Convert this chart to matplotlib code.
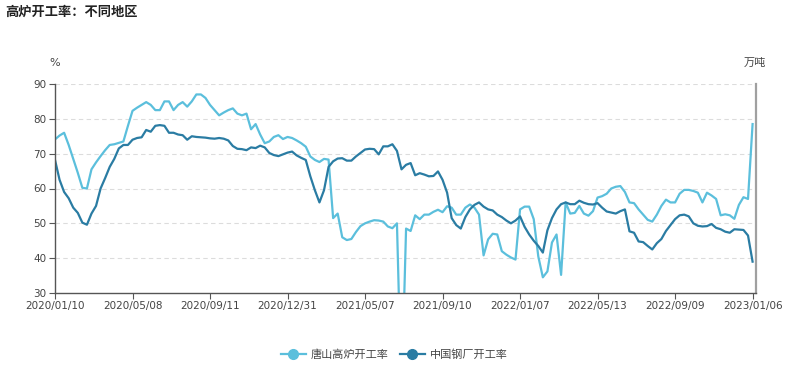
import matplotlib
matplotlib.use("Agg")
import matplotlib.pyplot as plt
import numpy as np

plt.rcParams['font.family'] = ['Noto Sans CJK SC', 'DejaVu Sans']

title = "高炉开工率：不同地区"
series_names = ["唐山高炉开工率", "中国钢厂开工率"]
tick_labels = ["2020/01/10", "2020/05/08", "2020/09/11", "2020/12/31", "2021/05/07",
               "2021/09/10", "2022/01/07", "2022/05/13", "2022/09/09", "2023/01/06"]
tick_step = 17
y_ticks = [30, 40, 50, 60, 70, 80, 90]

tangshan = [
    74.1, 75.2, 76.0, 72.5, 68.5, 64.5, 60.2, 60.0, 65.5, 67.5,
    69.3, 71.0, 72.5, 72.7, 73.1, 73.5, 78.0, 82.3, 83.2, 84.0,
    84.8, 84.0, 82.5, 82.5, 85.0, 85.0, 82.5, 84.0, 84.8, 83.5,
    85.0, 87.0, 87.0, 86.0, 84.0, 82.5, 81.0, 81.8, 82.5, 83.0,
    81.5, 81.0, 81.5, 77.0, 78.5, 75.5, 73.0, 73.5, 74.8, 75.3,
    74.2, 74.8, 74.5, 73.8, 73.0, 72.0, 69.2, 68.2, 67.6, 68.5,
    68.3, 51.5, 52.8, 46.0, 45.2, 45.5, 47.5, 49.2, 50.0, 50.5,
    50.9, 50.8, 50.5, 49.1, 48.6, 50.0, 0.0, 48.5, 47.8, 52.3,
    51.2, 52.5, 52.5, 53.3, 53.9, 53.2, 54.9, 54.5, 52.5, 52.5,
    54.5, 55.4, 54.5, 52.5, 40.8, 45.4, 47.0, 46.8, 42.0, 41.0,
    40.2, 39.6, 54.0, 54.8, 54.8, 51.2, 40.5, 34.5, 36.2, 44.5,
    46.8, 35.2, 56.0, 52.8, 53.0, 55.0, 52.8, 52.2, 53.5, 57.4,
    57.8, 58.5, 60.0, 60.5, 60.7, 59.0, 56.0, 55.8, 54.0, 52.5,
    51.0, 50.5, 52.5, 55.0, 56.8, 56.0, 56.0, 58.5, 59.6, 59.6,
    59.3, 58.8, 56.0, 58.8, 58.0, 57.0, 52.3, 52.6, 52.3, 51.3,
    55.3, 57.5, 57.0, 78.5,
]

china = [
    68.2, 62.5, 59.0, 57.2, 54.5, 53.0, 50.2, 49.6, 52.8, 55.0,
    60.0, 63.0, 66.2, 68.5, 71.5, 72.5, 72.5, 74.0, 74.5, 74.7,
    76.8, 76.3, 78.0, 78.2, 78.0, 76.0, 76.0, 75.5, 75.3, 74.0,
    75.0, 74.8, 74.7, 74.6, 74.4, 74.3, 74.5, 74.3, 73.8, 72.2,
    71.4, 71.3, 71.0, 71.8, 71.6, 72.3, 71.8, 70.2, 69.6, 69.3,
    69.8, 70.3, 70.6, 69.5, 68.8, 68.2, 63.5, 59.5, 56.0, 59.5,
    66.2, 67.8, 68.6, 68.7, 68.0, 68.0, 69.2, 70.2, 71.2, 71.4,
    71.3, 69.8, 72.1, 72.1, 72.7, 70.8, 65.5, 66.8, 67.3, 63.8,
    64.4, 64.0, 63.5, 63.6, 64.9, 62.5, 58.8, 51.5, 49.5, 48.5,
    51.8, 54.0, 55.3, 56.0, 54.8, 54.0, 53.7, 52.5, 51.8, 50.8,
    50.0, 50.8, 52.0, 49.0, 46.8, 45.0, 43.5, 41.6, 48.0, 51.5,
    54.0, 55.5, 56.0, 55.5, 55.5, 56.5, 55.9, 55.5, 55.4, 55.8,
    54.5, 53.4, 53.1, 52.8, 53.5, 54.0, 47.7, 47.3, 44.8, 44.6,
    43.5, 42.5, 44.3, 45.5, 47.8, 49.5, 51.2, 52.3, 52.5, 52.0,
    50.0, 49.3, 49.1, 49.2, 49.8, 48.7, 48.3, 47.6, 47.3, 48.3,
    48.2, 48.1, 46.5, 39.0,
]

light_color = "#5bbfdc"
dark_color = "#2a7ca3"

fig = plt.figure(figsize=(7.89, 3.67), dpi=100)
ax = fig.add_axes([55 / 789, 1 - 293 / 367, (756 - 55) / 789, (293 - 84) / 367])

x = np.arange(len(tangshan))
ax.plot(x, tangshan, color=light_color, lw=1.6, marker='o', markersize=0,
        label=series_names[0], solid_joinstyle='round')
ax.plot(x, china, color=dark_color, lw=1.6, marker='o', markersize=0,
        label=series_names[1], solid_joinstyle='round')

ax.set_ylim(30, 90)
ax.set_xlim(0, len(tangshan) - 1 + 0.75)
ax.set_yticks(y_ticks)
ax.set_xticks(np.arange(0, len(tangshan), tick_step)[:len(tick_labels)])
ax.set_xticklabels(tick_labels)

for v in y_ticks[1:]:
    ax.axhline(v, color="#dcdcdc", lw=0.8, ls=(0, (4, 3)), zorder=0)

for s in ["top"]:
    ax.spines[s].set_visible(False)
ax.spines["left"].set_color("#555555")
ax.spines["left"].set_linewidth(1.0)
ax.spines["bottom"].set_color("#555555")
ax.spines["bottom"].set_linewidth(1.0)
ax.spines["right"].set_color("#a0a0a0")
ax.spines["right"].set_linewidth(1.6)

ax.tick_params(axis='y', length=4, width=0.8, color="#555555", labelsize=8,
               labelcolor="#444444", pad=2)
ax.tick_params(axis='x', length=4, width=0.8, color="#555555", labelsize=7.5,
               labelcolor="#444444", pad=2)
for lab in ax.get_xticklabels() + ax.get_yticklabels():
    lab.set_family(['DejaVu Sans'])
    lab.set_fontsize(7.5)

fig.text(5 / 789, 1 - 12 / 367, title, fontsize=9.5, fontweight='bold',
         color="#222222", va='center', ha='left')
fig.text(55 / 789, 1 - 63 / 367, "%", fontsize=8, color="#444444",
         va='center', ha='center', family=['DejaVu Sans'])
fig.text(755 / 789, 1 - 63 / 367, "万吨", fontsize=8, color="#444444",
         va='center', ha='center')

from matplotlib.lines import Line2D
handles = [Line2D([0], [0], color=light_color, lw=1.6, marker='o', markersize=7),
           Line2D([0], [0], color=dark_color, lw=1.6, marker='o', markersize=7)]
fig.legend(handles, series_names, loc='center', bbox_to_anchor=(0.5, 1 - 355 / 367),
           ncol=2, frameon=False, fontsize=8, handlelength=2.2, columnspacing=1.0,
           handletextpad=0.5, labelcolor="#444444")

fig.savefig("out.png", dpi=100)
